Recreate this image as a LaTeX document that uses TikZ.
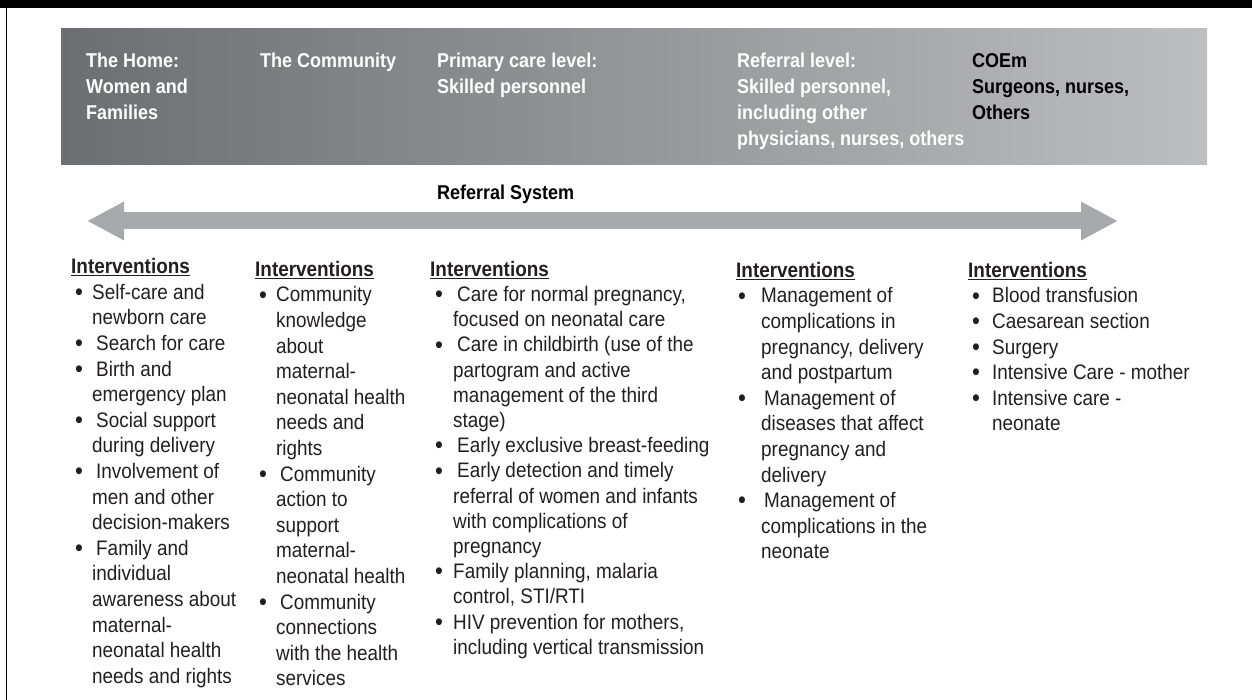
\documentclass[tikz,border=0pt]{standalone}
\usepackage{fontspec}
\setmainfont[FakeStretch=0.9]{Liberation Sans}
\usetikzlibrary{arrows.meta}
\usetikzlibrary{calc}

\definecolor{boxdark}{HTML}{6D6E71}
\definecolor{boxlight}{HTML}{BDBEC0}
\definecolor{arrowgray}{HTML}{A7A9AC}
\definecolor{bodytext}{HTML}{231F20}

\newlength\bulin
\newlength\txtin
\newcommand{\bul}{\hspace*{\bulin}\makebox[\dimexpr\txtin-\bulin\relax][l]{\smash{\raisebox{-1.2pt}{\fontsize{25}{25}\selectfont\textbullet}}}}
\newcommand{\cnt}{\hspace*{\txtin}}
\newcommand{\ihead}{\textbf{\underline{Interventions}}}

\begin{document}
\begin{tikzpicture}[x=1pt, y=-1pt,
level/.style={anchor=north west, inner sep=0pt, text=white, font=\fontsize{20}{26}\selectfont\bfseries},
interv/.style={anchor=north west, inner sep=0pt, text=bodytext, font=\fontsize{21}{25.6}\selectfont},
referral/.style={draw=arrowgray, line width=17pt, {Triangle[length=37pt,width=36pt]}-{Triangle[length=37pt,width=36pt]}}]

%%%%%% FRAME %%%%%%%%%%

\useasboundingbox (0,0) rectangle (1252,700);
\fill[black] (0,0) rectangle (1252,8);
\draw[line width=1.4pt] (6.5,0) -- (6.5,700);

%%%%%% LEVELS %%%%%%%%%%

\shade[left color=boxdark, right color=boxlight] (61,29) rectangle (1207,165);

\node[level] (home) at (86,48.8) {\begin{tabular}{@{}l@{}}The Home:\\Women and\\Families\end{tabular}};
\node[level] (community) at (260,48.8) {\begin{tabular}{@{}l@{}}The Community\end{tabular}};
\node[level] (primary) at (437,48.8) {\begin{tabular}{@{}l@{}}Primary care level:\\Skilled personnel\end{tabular}};
\node[level] (reflevel) at (737,48.8) {\begin{tabular}{@{}l@{}}Referral level:\\Skilled personnel,\\including other\\physicians, nurses, others\end{tabular}};
\node[level, text=black] (coem) at (972,48.8) {\begin{tabular}{@{}l@{}}COEm\\Surgeons, nurses,\\Others\end{tabular}};

%%%%%% REFERRAL %%%%%%%%%%

\node[level, text=black] (refsys) at (437,181.5) {\begin{tabular}{@{}l@{}}Referral System\end{tabular}};
\coordinate (refleft) at (87,221);
\coordinate (refright) at (1118,221);
\draw[referral] (refleft) -- (refright);

%%%%%% INTERVENTIONS %%%%%%%%%%

\node[interv] (inthome) at (71,255.6) {\setlength\bulin{4pt}\setlength\txtin{21pt}%
\begin{tabular}{@{}l@{}}
\ihead\\
\bul Self-care and\\
\cnt newborn care\\
\bul \hspace{4pt}Search for care\\
\bul \hspace{4pt}Birth and\\
\cnt emergency plan\\
\bul \hspace{4pt}Social support\\
\cnt during delivery\\
\bul \hspace{4pt}Involvement of\\
\cnt men and other\\
\cnt decision-makers\\
\bul \hspace{4pt}Family and\\
\cnt individual\\
\cnt awareness about\\
\cnt maternal-\\
\cnt neonatal health\\
\cnt needs and rights
\end{tabular}};

\node[interv] (intcommunity) at (255,258.1) {\setlength\bulin{4pt}\setlength\txtin{21pt}%
\begin{tabular}{@{}l@{}}
\ihead\\
\bul Community\\
\cnt knowledge\\
\cnt about\\
\cnt maternal-\\
\cnt neonatal health\\
\cnt needs and\\
\cnt rights\\
\bul \hspace{4pt}Community\\
\cnt action to\\
\cnt support\\
\cnt maternal-\\
\cnt neonatal health\\
\bul \hspace{4pt}Community\\
\cnt connections\\
\cnt with the health\\
\cnt services
\end{tabular}};

\node[interv, font=\fontsize{21}{25.2}\selectfont] (intprimary) at (430,258.4) {\setlength\bulin{5pt}\setlength\txtin{23pt}%
\begin{tabular}{@{}l@{}}
\ihead\\
\bul \hspace{4pt}Care for normal pregnancy,\\
\cnt focused on neonatal care\\
\bul \hspace{4pt}Care in childbirth (use of the\\
\cnt partogram and active\\
\cnt management of the third\\
\cnt stage)\\
\bul \hspace{4pt}Early exclusive breast-feeding\\
\bul \hspace{4pt}Early detection and timely\\
\cnt referral of women and infants\\
\cnt with complications of\\
\cnt pregnancy\\
\bul Family planning, malaria\\
\cnt control, STI/RTI\\
\bul HIV prevention for mothers,\\
\cnt including vertical transmission
\end{tabular}};

\node[interv] (intreferral) at (736,259.1) {\setlength\bulin{2pt}\setlength\txtin{25pt}%
\begin{tabular}{@{}l@{}}
\ihead\\
\bul Management of\\
\cnt complications in\\
\cnt pregnancy, delivery\\
\cnt and postpartum\\
\bul \hspace{3pt}Management of\\
\cnt diseases that affect\\
\cnt pregnancy and\\
\cnt delivery\\
\bul \hspace{3pt}Management of\\
\cnt complications in the\\
\cnt neonate
\end{tabular}};

\node[interv] (intcoem) at (968,259.1) {\setlength\bulin{4pt}\setlength\txtin{24pt}%
\begin{tabular}{@{}l@{}}
\ihead\\
\bul Blood transfusion\\
\bul Caesarean section\\
\bul Surgery\\
\bul Intensive Care - mother\\
\bul Intensive care -\\
\cnt neonate
\end{tabular}};

\end{tikzpicture}
\end{document}
